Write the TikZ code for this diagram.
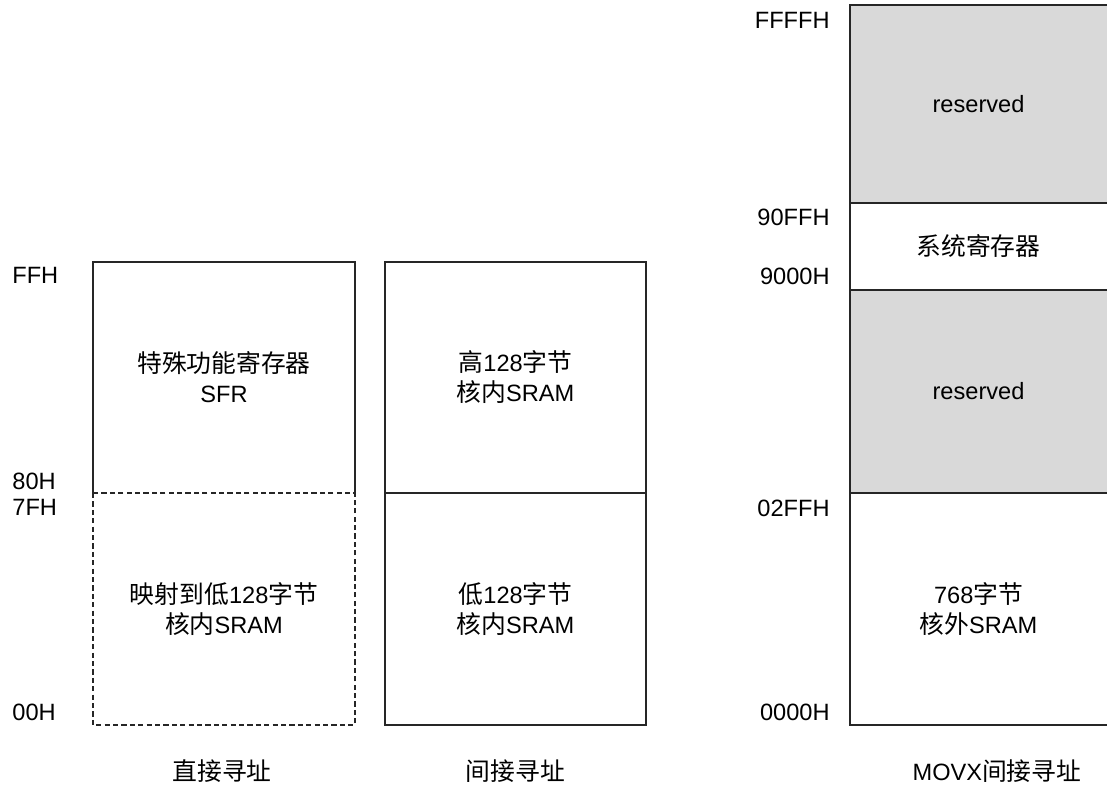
\documentclass[tikz,border=0pt]{standalone}
\usepackage{fontspec}
\setmainfont{Liberation Sans}
\newfontfamily\cjk[Scale=1.05]{Noto Sans CJK SC}
\usetikzlibrary{positioning}
\definecolor{rsvgray}{HTML}{D9D9D9}
\definecolor{edge}{HTML}{262626}
\newcommand{\zh}[1]{{\cjk #1}}

\begin{document}
\begin{tikzpicture}[x=0.5pt,y=-0.5pt,
    every node/.style={font=\fontsize{11.8}{15}\selectfont, align=center, inner sep=0pt},
    frame/.style={draw=edge, line width=0.6pt},
    dashframe/.style={frame, dash pattern=on 2.6pt off 1.6pt},
    addrl/.style={anchor=west},
    addrr/.style={anchor=east}]
  \useasboundingbox (0,0) rectangle (1107,785);

  % direct addressing
  \draw[frame] (93,493) -- (93,262) -- (355,262) -- (355,493);
  \draw[dashframe] (93,493) rectangle (355,725);
  \node (sfr) at (224,377.5) {\zh{特殊功能寄存器}\\SFR};
  \node (lowmap) at (224,609) {\zh{映射到低}128\zh{字节}\\\zh{核内}SRAM};
  \node[addrl] (aFF) at (12,275) {FFH};
  \node[addrl] (a80) at (12,481) {80H};
  \node[addrl] (a7F) at (12,507) {7FH};
  \node[addrl] (a00) at (12,712) {00H};
  \node (tdirect) at (222,771) {\zh{直接寻址}};

  % indirect addressing
  \draw[frame] (385,262) rectangle (646,725);
  \draw[frame] (385,493) -- (646,493);
  \node (high) at (515.5,377.5) {\zh{高}128\zh{字节}\\\zh{核内}SRAM};
  \node (low) at (515.5,609) {\zh{低}128\zh{字节}\\\zh{核内}SRAM};
  \node (tindirect) at (515.5,771) {\zh{间接寻址}};

  % MOVX
  \fill[rsvgray] (850,5) rectangle (1107,203);
  \fill[rsvgray] (850,290) rectangle (1107,493);
  \draw[frame] (1108,5) -- (850,5) -- (850,725) -- (1108,725);
  \draw[frame] (850,203) -- (1108,203);
  \draw[frame] (850,290) -- (1108,290);
  \draw[frame] (850,493) -- (1108,493);
  \node (rsv1) at (978.5,104) {reserved};
  \node (sysreg) at (978.5,246.5) {\zh{系统寄存器}};
  \node (rsv2) at (978.5,391.5) {reserved};
  \node (ext) at (978.5,609) {768\zh{字节}\\\zh{核外}SRAM};
  \node[addrr] (aFFFF) at (830,20) {FFFFH};
  \node[addrr] (a90FF) at (830,217) {90FFH};
  \node[addrr] (a9000) at (830,276) {9000H};
  \node[addrr] (a02FF) at (830,508) {02FFH};
  \node[addrr] (a0000) at (830,712) {0000H};
  \node (tmovx) at (997,771) {MOVX\zh{间接寻址}};
\end{tikzpicture}
\end{document}
